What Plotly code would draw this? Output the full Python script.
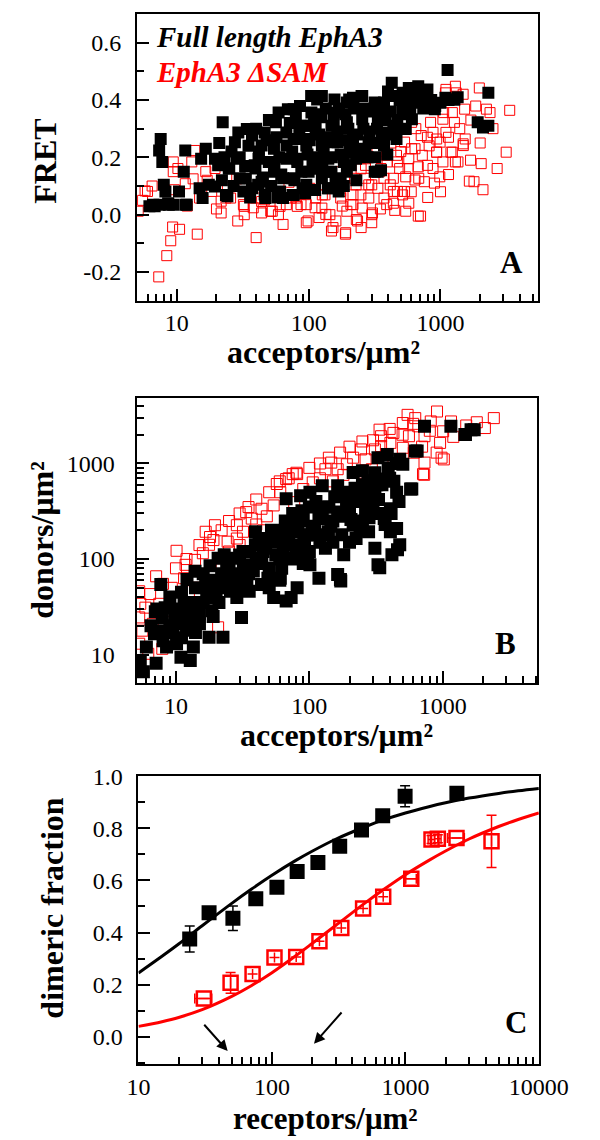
import math
import plotly.graph_objects as go

# ---------------- data ----------------
# Panel A: FRET vs acceptor concentration
a_full_x = [7.55, 7.35, 7.77, 7.97, 8.2, 6.6, 7.4, 9.4, 8.6, 11.6, 10.4, 11.3, 11.6, 14.9, 15.7, 17.5, 19.5,
            16.6, 15.3, 19.5, 22.3, 29.3, 20.6, 24.2, 24.8, 28.5, 37.2, 33.4, 37.2, 41.7, 46.4, 54.6, 59.2,
            69.6, 67.8, 54.6, 44, 60.8, 46.4, 67.8, 39.5, 6.8, 6.2, 11.9, 8.7,
            41.4, 49.9, 64, 77, 68, 56.5, 82, 93, 105, 116, 90, 112, 140, 169, 127, 153, 163, 209, 203, 252,
            32, 25, 27.6, 23.6, 39, 47, 64, 30, 44, 34,
            1132, 1262, 912, 796, 678, 575, 427, 451, 373, 516, 607, 317, 255, 217, 195, 157, 126, 104.5, 86,
            77, 86, 113, 149, 195, 255, 335, 439, 545, 607, 464, 373, 285, 217, 166, 126, 96, 77, 82, 107,
            141, 185, 229, 317, 354, 77, 96, 126, 149, 175, 94, 75.5, 141, 206, 270, 373, 516,
            2307, 1915, 2307, 2100, 1275, 1090, 906, 334,
            21, 23, 26, 22, 27, 30, 33, 35, 36, 40, 42, 45, 48, 50, 52, 55, 57, 60, 62, 58,
            72, 75, 78, 80, 85, 88, 95, 98, 100, 102, 105, 110, 115, 118, 120, 125,
            130, 135, 140, 145, 150, 155, 160, 165, 170, 175, 180, 185, 190, 195, 200, 205,
            220, 230, 235, 245, 260, 265, 280, 290, 300, 310, 320, 330, 345, 360, 380, 395, 400,
            420, 440, 470, 490, 500, 530, 560, 590, 620, 650, 700, 740, 850, 1000, 1150, 1350]
a_full_y = [0.264, 0.224, 0.184, 0.104, 0.081, 0.035, 0.035, 0.035, 0.04, 0.035, 0.081, 0.15, 0.224, 0.092,
            0.058, 0.104, 0.098, 0.23, 0.195, 0.195, 0.322, 0.287, 0.172, 0.064, 0.161, 0.195, 0.276, 0.126,
            0.092, 0.195, 0.287, 0.23, 0.356, 0.368, 0.287, 0.15, 0.115, 0.081, 0.07, 0.195, 0.161, 0.029,
            0.029, 0.035, 0.035,
            0.104, 0.184, 0.127, 0.069, 0.241, 0.322, 0.184, 0.264, 0.356, 0.402, 0.092, 0.086, 0.092, 0.081,
            0.184, 0.253, 0.356, 0.172, 0.402, 0.414,
            0.081, 0.161, 0.253, 0.069, 0.172, 0.058, 0.058, 0.127, 0.241, 0.299,
            0.505, 0.402, 0.379, 0.437, 0.448, 0.442, 0.46, 0.414, 0.391, 0.368, 0.402, 0.391, 0.414, 0.408,
            0.391, 0.402, 0.414, 0.414, 0.379, 0.368, 0.31, 0.299, 0.31, 0.322, 0.333, 0.333, 0.31, 0.299,
            0.333, 0.264, 0.241, 0.253, 0.264, 0.253, 0.241, 0.241, 0.264, 0.195, 0.184, 0.195, 0.184, 0.195,
            0.15, 0.155, 0.127, 0.104, 0.127, 0.15, 0.127, 0.075, 0.069, 0.092, 0.218, 0.218, 0.287, 0.425,
            0.425, 0.322, 0.31, 0.304, 0.402, 0.408, 0.368, 0.15,
            0.25, 0.2, 0.22, 0.12, 0.1, 0.2, 0.17, 0.24, 0.06, 0.3, 0.22, 0.13, 0.26, 0.33, 0.1, 0.18, 0.27,
            0.2, 0.14, 0.06,
            0.32, 0.22, 0.12, 0.34, 0.28, 0.15, 0.31, 0.21, 0.15, 0.26, 0.31, 0.35, 0.2, 0.16, 0.28, 0.34,
            0.22, 0.37, 0.15, 0.27, 0.2, 0.33, 0.12, 0.29, 0.37, 0.21, 0.26, 0.1, 0.35, 0.15, 0.3, 0.24,
            0.37, 0.12, 0.28, 0.23, 0.3, 0.37, 0.2, 0.29, 0.36, 0.25, 0.2, 0.3, 0.37, 0.27, 0.33, 0.21, 0.43,
            0.36, 0.28, 0.33, 0.4, 0.3, 0.35, 0.4, 0.37, 0.43, 0.39, 0.41, 0.37, 0.4, 0.39, 0.4, 0.41]

a_dsam_x = [3350, 3150, 2690, 2035, 2100, 1795, 1690, 1357, 1970, 2230, 2375, 1850, 1540, 1275, 1090, 1315,
            1057, 878, 775, 933, 728, 684, 706, 568, 534, 471, 416, 345, 286, 269, 305, 230, 191, 153, 135,
            112, 99, 87.5, 64, 53, 44, 40, 29, 32, 23.6, 18.4, 14.3, 10.5, 9, 8.4, 7.3, 6.0, 5.1, 169, 223,
            391, 604, 604, 471, 286, 391, 127, 209, 534, 878, 1200, 1490, 993,
            1100, 1297, 1485, 1525, 1655, 1230, 1043, 841, 1100, 936, 796, 714, 641, 936, 1230, 1485, 1297,
            1043, 796, 678, 988, 754, 641, 545, 490, 464, 575, 394, 373, 439, 516, 575, 678, 545, 439, 373,
            335, 301, 270, 249, 229, 217, 255, 301, 301, 235, 190, 161, 149, 145, 126, 113, 102, 96, 96, 82,
            80, 133, 175, 195, 175, 217, 270, 354, 439,
            9.3, 5.75, 13, 32.5, 38, 51.6, 60.7, 25.6, 21.7, 10.2, 13.3, 11.6, 14.9, 21.7, 71, 9.6, 16.6,
            24.2, 39.5, 46.4, 32.5, 44, 59, 73.5, 28.5, 19.5, 13.7, 67.8, 9.4, 9.4,
            250, 330, 420, 500, 650, 820, 1150, 1400, 1700, 2000, 2500, 600, 800, 900, 1000, 1150, 350, 450,
            250, 180, 120, 160, 5.5, 6.5, 12, 17, 20]
a_dsam_y = [0.364, 0.218, 0.161, 0.178, 0.087, 0.115, 0.19, 0.184, 0.442, 0.368, 0.356, 0.379, 0.264, 0.322,
            0.425, 0.425, 0.356, 0.287, 0.379, 0.218, 0.207, 0.127, -0.005, 0.161, 0.253, 0.081, 0.104, 0.15,
            0.058, 0.195, 0.006, -0.017, -0.063, -0.045, 0.001, 0.024, -0.022, 0.035, -0.034, 0.012, 0.046,
            -0.08, -0.022, 0.035, 0.058, 0.081, -0.068, -0.051, -0.091, -0.143, -0.217, 0.081, 0.012, 0.15,
            0.127, 0.207, 0.322, 0.23, 0.184, 0.104, 0.035, 0.069, 0.035, 0.081, 0.161, 0.218, 0.241, 0.253,
            0.437, 0.448, 0.42, 0.368, 0.117, 0.356, 0.333, 0.322, 0.287, 0.264, 0.27, 0.276, 0.23, 0.218,
            0.218, 0.247, 0.184, 0.184, 0.172, 0.167, 0.132, 0.115, 0.121, 0.132, 0.161, 0.207, 0.195, 0.184,
            0.127, 0.081, 0.069, 0.04, -0.005, 0.012, 0.04, 0.058, 0.092, 0.104, 0.127, 0.069, 0.104, 0.035,
            0.023, 0.0, -0.028, -0.022, -0.068, -0.022, -0.057, 0.0, 0.023, 0.058, 0.092, 0.035, -0.028,
            0.029, 0.058, 0.069, 0.058, 0.012, 0.081, 0.069, 0.172, 0.161, 0.127,
            -0.043, 0.083, 0.184, 0.029, 0.024, 0.012, 0.029, 0.058, 0.047, 0.161, 0.125, 0.108, 0.058, 0.006,
            0.113, 0.087, 0.15, 0.096, 0.058, 0.052, 0.0, 0.006, 0.0, 0.058, 0.125, 0.161, 0.224, 0.035,
            0.184, 0.15,
            0.16, 0.22, 0.25, 0.22, 0.3, 0.24, 0.27, 0.3, 0.33, 0.25, 0.3, 0.08, 0.06, 0.11, 0.08, 0.14, 0.02,
            0.015, -0.045, 0.03, -0.01, 0.1, 0.05, 0.1, 0.03, 0.12, 0.02]

# Panel B: donors vs acceptors
b_full_x = [7.7, 5.4, 5.7, 7.1, 6.9, 7.9, 7.9, 8.3, 9.8, 10.9, 10.1, 10.9, 12.8, 13.5, 11.5, 12.8, 15, 17.7,
            22.5, 14.6, 18.6, 12.1, 13.9, 16.7, 18.6, 21.9, 20.7, 23, 24.4, 31, 28.6, 31.8, 35.4, 39.4, 39.4,
            43.8, 48.9, 54, 67, 60.5, 67, 54, 63.8, 71, 31.8, 27.1, 25.6, 35.4, 43.8, 46.3,
            730, 1151, 1466, 1630, 622, 502, 476, 384, 327, 574, 451, 364, 250, 310, 405, 364, 451, 405, 476,
            416, 327, 310, 278, 224, 172, 163, 132, 181, 118, 81, 101, 125, 163, 213, 264, 125, 163, 101, 86,
            90, 77, 101, 139, 213, 264, 213, 181, 77, 90, 73,
            1480, 1722, 643, 586, 458, 337, 171,
            50, 60, 70, 80, 45, 55, 65, 85, 95, 110, 120, 140, 100, 75, 35, 28, 40, 150, 180, 200, 230, 250,
            300, 350, 280, 320, 400, 200, 250, 150, 120, 100, 90, 60, 50,
            7.2, 8.5, 9.5, 11, 12, 14, 16, 19, 20, 22, 24, 26,
            6, 6.5, 7, 8, 9, 9, 10, 11, 12, 13, 14, 15, 16, 17, 18, 19, 21, 23, 25, 27, 29, 30, 32, 34, 36,
            38, 42, 44, 47, 52, 56, 58, 62, 66, 70, 74, 78, 82, 88, 92, 97, 105, 112, 118, 128, 135, 145,
            155, 168, 175, 190, 205, 220, 240, 255, 275, 290, 310, 330, 350, 370, 390, 410, 430, 450, 470]
b_full_y = [54, 8.4, 6.6, 8.1, 16.5, 17.8, 24.5, 31, 26.5, 21, 13, 9.4, 8.7, 12, 34, 22.6, 21, 15.2, 15.2,
            29.9, 28.7, 61, 74.5, 54, 39.5, 50, 102, 111, 63, 24.5, 39.5, 63, 87, 141, 193, 102, 63, 39.5,
            36.4, 63, 427, 193, 130, 226, 120, 102, 46, 46, 54, 164,
            2450, 2450, 2010, 2260, 1349, 982, 1106, 1245, 1150, 540, 500, 687, 838, 500, 336, 265, 209, 193,
            141, 111, 87, 130, 193, 164, 59, 69, 130, 111, 63, 50, 87, 265, 310, 427, 540, 586, 586, 500, 461,
            265, 193, 178, 193, 226, 310, 805, 500, 102, 141, 39.5,
            2005, 2260, 1349, 540, 125, 81, 61,
            80, 100, 150, 120, 120, 160, 200, 250, 180, 220, 300, 350, 350, 300, 70, 60, 90, 250, 300, 350,
            400, 600, 400, 300, 270, 600, 700, 150, 250, 150, 150, 120, 90, 60, 50,
            30, 12, 17, 15, 28, 17, 35, 60, 45, 70, 80, 55,
            12, 20, 28, 14, 20, 40, 30, 45, 18, 35, 50, 27, 70, 40, 85, 25, 35, 55, 90, 70, 50, 110, 85, 60,
            120, 75, 160, 90, 130, 200, 110, 150, 80, 250, 180, 100, 140, 220, 320, 160, 110, 200, 400, 270,
            180, 350, 220, 450, 280, 180, 380, 260, 550, 200, 420, 650, 300, 800, 420, 600, 230, 900, 300,
            650, 1000, 400]

b_dsam_x = [10.1, 11.8, 13.9, 15.9, 17.7, 19.6, 19.1, 16.7, 7.1, 6.4, 5.3, 5.3, 5.6, 6.2, 7.9, 5.9, 7.5, 9.8,
            12.5, 20.7, 14.3, 28.6, 31.8, 37, 43.8, 54, 57, 67, 75, 33.6, 28.6, 24.4, 21.9, 11.5, 9.3, 9.0,
            6.7, 60.5, 5.3, 5.4,
            906, 545, 622, 813, 502, 1007, 730, 955, 558, 427, 345, 405, 502, 345, 310, 980, 730, 711, 244,
            213, 264, 163, 191, 132, 146, 294, 81, 106, 90, 77, 427, 607, 656, 336,
            2415, 2070, 1019, 726, 1153,
            120, 150, 180, 230, 40, 48, 25, 30, 22, 45,
            8, 10, 12, 15, 18, 22, 25, 30, 35, 40, 50, 60, 70, 80, 100, 120, 140, 170, 200, 250, 300, 400,
            500, 600, 700, 800, 1200, 1500, 1800, 900]
b_dsam_y = [122, 87, 98, 115, 141, 226, 158, 193, 66, 43, 46, 24.5, 17.8, 10.2, 11.5, 31, 34, 38, 46, 19.3,
            50, 164, 193, 265, 336, 364, 610, 687, 774, 310, 226, 152, 102, 63, 50, 28.7, 21, 500, 13, 34,
            3500, 3230, 2985, 2755, 2650, 2172, 1930, 1643, 1930, 2090, 1930, 1643, 1460, 1520, 1404, 1150,
            1022, 774, 1404, 1150, 1106, 871, 982, 871, 1022, 871, 774, 634, 540, 394, 1106, 1296, 2450, 2260,
            2985, 2350, 1104, 762, 2755,
            700, 650, 760, 800, 230, 280, 120, 140, 90, 200,
            55, 80, 100, 140, 170, 200, 250, 300, 350, 420, 500, 650, 700, 800, 900, 1000, 1150, 1300, 1500,
            1700, 1750, 2300, 2000, 2600, 1500, 2200, 1900, 2500, 2700, 1300]

# Panel C: dimeric fraction vs receptor concentration
c_full_x = [24.2, 33.8, 51, 75.7, 109, 154.5, 221, 322, 469, 676, 995, 2432]
c_full_y = [0.375, 0.476, 0.455, 0.53, 0.574, 0.634, 0.669, 0.731, 0.794, 0.848, 0.923, 0.935]
c_full_ey = [0.05, 0.02, 0.047, 0.02, 0.02, 0.02, 0.02, 0.02, 0.02, 0.02, 0.04, 0.02]

c_dsam_x = [30.9, 49, 71.6, 104.5, 152, 227, 331, 482, 682, 1107, 1570, 1750, 2415, 4420]
c_dsam_y = [0.147, 0.207, 0.241, 0.304, 0.306, 0.367, 0.417, 0.492, 0.537, 0.606, 0.757, 0.76, 0.763, 0.75]
c_dsam_ey = [0, 0.04, 0, 0, 0, 0, 0, 0, 0, 0, 0.015, 0.015, 0, 0.10]
c_dsam_ex = [4.5, 0, 0, 0, 0, 0, 0, 0, 0, 100, 90, 100, 350, 0]

c_fit_x = [10, 15, 20, 30, 50, 70, 100, 150, 200, 300, 500, 700, 1000, 1500, 2000, 3000, 5000, 7000, 10000]
c_full_fit_y = [0.245, 0.309, 0.356, 0.426, 0.512, 0.566, 0.620, 0.676, 0.712, 0.758, 0.806, 0.834, 0.859,
                0.883, 0.898, 0.916, 0.934, 0.944, 0.953]
c_dsam_fit_y = [0.040, 0.058, 0.074, 0.104, 0.155, 0.196, 0.246, 0.310, 0.358, 0.427, 0.514, 0.568, 0.622,
                0.677, 0.713, 0.759, 0.807, 0.834, 0.859]

a_y_ticks = [-0.2, 0.0, 0.2, 0.4, 0.6]
a_y_ticktext = ["-0.2", "0.0", "0.2", "0.4", "0.6"]
c_y_ticks = [0.0, 0.2, 0.4, 0.6, 0.8, 1.0]
c_y_ticktext = ["0.0", "0.2", "0.4", "0.6", "0.8", "1.0"]
log_ticks = [10, 100, 1000, 10000]
log_ticktext = ["10", "100", "1000", "10000"]

# ---------------- figure ----------------
W, H = 600, 1140
FONT = "Liberation Serif"
RED = "#ff0000"


def pxx(p):
    return p / W


def pxy(p):
    return 1 - p / H


fig = go.Figure()

# Panel A
fig.add_trace(go.Scatter(x=a_dsam_x, y=a_dsam_y, mode="markers", xaxis="x", yaxis="y",
                         marker=dict(symbol="square-open", size=10, color=RED, line=dict(width=1, color=RED))))
fig.add_trace(go.Scatter(x=a_full_x, y=a_full_y, mode="markers", xaxis="x", yaxis="y",
                         marker=dict(symbol="square", size=12, color="black", line=dict(width=0))))
# Panel B
fig.add_trace(go.Scatter(x=b_dsam_x, y=b_dsam_y, mode="markers", xaxis="x2", yaxis="y2",
                         marker=dict(symbol="square-open", size=11, color=RED, line=dict(width=1, color=RED))))
fig.add_trace(go.Scatter(x=b_full_x, y=b_full_y, mode="markers", xaxis="x2", yaxis="y2",
                         marker=dict(symbol="square", size=13, color="black", line=dict(width=0))))
# Panel C
fig.add_trace(go.Scatter(x=c_fit_x, y=c_full_fit_y, mode="lines", xaxis="x3", yaxis="y3",
                         line=dict(color="black", width=3, shape="spline")))
fig.add_trace(go.Scatter(x=c_fit_x, y=c_dsam_fit_y, mode="lines", xaxis="x3", yaxis="y3",
                         line=dict(color=RED, width=3, shape="spline")))
fig.add_trace(go.Scatter(x=c_full_x, y=c_full_y, mode="markers", xaxis="x3", yaxis="y3",
                         error_y=dict(type="data", array=c_full_ey, color="black", thickness=1.5, width=5),
                         marker=dict(symbol="square", size=15, color="black", line=dict(width=0))))
fig.add_trace(go.Scatter(x=c_dsam_x, y=c_dsam_y, mode="markers", xaxis="x3", yaxis="y3",
                         error_y=dict(type="data", array=c_dsam_ey, color=RED, thickness=1.5, width=5),
                         error_x=dict(type="data", array=c_dsam_ex, color=RED, thickness=1.5, width=5),
                         marker=dict(symbol="square-open", size=14, color=RED, line=dict(width=2.5, color=RED))))

tickfont = dict(family=FONT, size=24, color="black")
minor_log = dict(ticks="inside", ticklen=7, tickwidth=1.5, tickcolor="black", dtick="D1", showgrid=False)
minor_lin = dict(ticks="inside", ticklen=7, tickwidth=1.5, tickcolor="black", dtick=0.1, tick0=0,
                 showgrid=False)


def axis(**kw):
    d = dict(showline=True, linecolor="black", linewidth=2, mirror=True, ticks="inside", ticklen=12,
             tickwidth=1.5, tickcolor="black", showgrid=False, zeroline=False, tickfont=tickfont)
    d.update(kw)
    return d


fig.update_layout(
    width=W, height=H, margin=dict(l=0, r=0, t=0, b=0),
    paper_bgcolor="white", plot_bgcolor="white", showlegend=False,
    xaxis=axis(type="log", range=[0.699, 3.741], domain=[pxx(134.5), pxx(565.8)], anchor="y",
               tickmode="array", tickvals=log_ticks, ticktext=log_ticktext, minor=minor_log,
               ticklabelstandoff=0),
    yaxis=axis(range=[-0.3, 0.7], domain=[pxy(291), pxy(1)], anchor="x",
               tickmode="array", tickvals=a_y_ticks, ticktext=a_y_ticktext, minor=minor_lin,
               ticklabelstandoff=9),
    xaxis2=axis(type="log", range=[0.705, 3.71], domain=[pxx(134), pxx(565)], anchor="y2",
                tickmode="array", tickvals=log_ticks, ticktext=log_ticktext, minor=minor_log,
                ticklabelstandoff=0),
    yaxis2=axis(type="log", range=[0.70, 3.69], domain=[pxy(678), pxy(389)], anchor="x2",
                tickmode="array", tickvals=log_ticks, ticktext=log_ticktext, minor=minor_log,
                ticklabelstandoff=15),
    xaxis3=axis(type="log", range=[1, 4], domain=[pxx(136), pxx(566.5)], anchor="y3",
                tickmode="array", tickvals=log_ticks, ticktext=log_ticktext, minor=minor_log,
                ticklabelstandoff=0),
    yaxis3=axis(range=[-0.104, 1.0], domain=[pxy(1063), pxy(772)], anchor="x3",
                tickmode="array", tickvals=c_y_ticks, ticktext=c_y_ticktext, minor=minor_lin,
                ticklabelstandoff=9),
)


def paper_text(text, x, y, size=32, color="black", angle=0, xanchor="center"):
    fig.add_annotation(text=text, x=pxx(x), y=pxy(y), xref="paper", yref="paper", showarrow=False,
                       xanchor=xanchor, yanchor="middle", textangle=angle,
                       font=dict(family=FONT, size=size, color=color))


# axis titles
paper_text("<b>acceptors/μm²</b>", 335, 343)
paper_text("<b>acceptors/μm²</b>", 349, 730)
paper_text("<b>receptors/μm²</b>", 337, 1118, size=31)
paper_text("<b>FRET</b>", 36, 150, angle=-90)
paper_text("<b>donors/μm²</b>", 32, 533, angle=-90)
paper_text("<b>dimeric fraction</b>", 43, 905, angle=-90)

# legend text in panel A
paper_text("<b><i>Full length EphA3</i></b>", 153, 24, size=29, xanchor="left")
paper_text("<b><i>EphA3 ΔSAM</i></b>", 153, 60, size=29, color=RED, xanchor="left")

# panel letters
paper_text("<b>A</b>", 537, 252, size=31)
paper_text("<b>B</b>", 531, 638, size=31)
paper_text("<b>C</b>", 542, 1021, size=31)

# arrows in panel C (axis log units)
for (hx, hy, tx, ty) in [(46.6, -0.055, 30.4, 0.052), (206.5, -0.027, 340, 0.099)]:
    fig.add_annotation(x=math.log10(hx), y=hy, ax=math.log10(tx), ay=ty, xref="x3", yref="y3",
                       axref="x3", ayref="y3", showarrow=True, arrowhead=2, arrowsize=1.1,
                       arrowwidth=2, arrowcolor="black", text="")

fig.write_html("out.html", config={"displayModeBar": False},
               post_script="document.body.style.margin='0';")
